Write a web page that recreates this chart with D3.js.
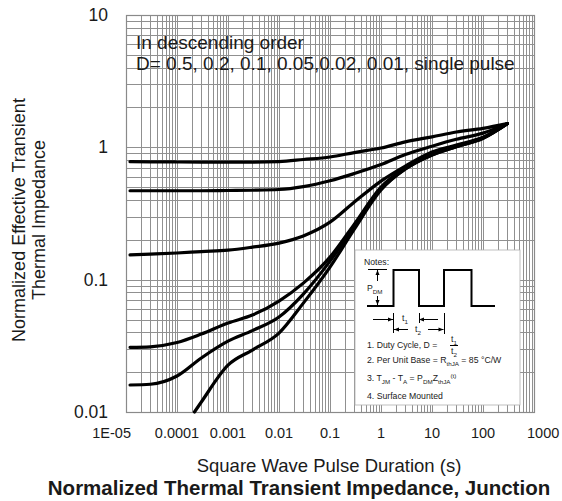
<!DOCTYPE html>
<html>
<head>
<meta charset="utf-8">
<script src="https://cdn.jsdelivr.net/npm/d3@7"></script>
<style>
  body { margin: 0; background: #fff; }
  text { font-family: "Liberation Sans", Arial, sans-serif; fill: #1a1a1a; }
</style>
</head>
<body>
<div id="chart"></div>
<script>
// Data

var xTicks = [1e-5, 1e-4, 1e-3, 1e-2, 0.1, 1, 10, 100, 1000];
var xTickLabels = ["1E-05", "0.0001", "0.001", "0.01", "0.1", "1", "10", "100", "1000"];
var yTicks = [0.01, 0.1, 1, 10];
var yTickLabels = ["0.01", "0.1", "1", "10"];

// pulse durations (s) shared by the duty cycle curves
var tDuty = [1.2e-5, 3e-5, 1e-4, 3e-4, 1e-3, 3e-3, 0.01, 0.03, 0.1, 0.3, 1, 3, 10, 30, 100, 300];
var zD05  = [0.78, 0.777, 0.775, 0.774, 0.774, 0.774, 0.781, 0.809, 0.845, 0.913, 0.988, 1.10, 1.20, 1.305, 1.39, 1.51];
var zD02  = [0.47, 0.47, 0.47, 0.47, 0.472, 0.474, 0.48, 0.505, 0.559, 0.634, 0.741, 0.882, 1.02, 1.15, 1.28, 1.51];
var zD01  = [0.154, 0.156, 0.159, 0.163, 0.167, 0.176, 0.189, 0.214, 0.272, 0.386, 0.556, 0.722, 0.922, 1.04, 1.19, 1.51];
var zD002 = [0.0308, 0.0311, 0.0335, 0.0388, 0.047, 0.054, 0.0689, 0.0942, 0.148, 0.263, 0.501, 0.697, 0.89, 1.02, 1.18, 1.51];
var zD001 = [0.016, 0.0162, 0.0187, 0.0256, 0.0343, 0.0412, 0.0522, 0.0778, 0.138, 0.254, 0.484, 0.686, 0.875, 1.01, 1.17, 1.51];

var tSingle = [2.2e-4, 3e-4, 1e-3, 3e-3, 0.01, 0.03, 0.1, 0.3, 1, 3, 10, 30, 100, 300];
var zSingle = [0.01, 0.0119, 0.0226, 0.0294, 0.0395, 0.0665, 0.1245, 0.241, 0.476, 0.686, 0.875, 1.01, 1.17, 1.51];

var series = [
    {t: tDuty, z: zD05},
    {t: tDuty, z: zD02},
    {t: tDuty, z: zD01},
    {t: tDuty, z: zD002},
    {t: tDuty, z: zD001},
    {t: tSingle, z: zSingle}
];

// Layout

var width = 562,
    height = 501;
var margin = {top: 15, right: 28, bottom: 89, left: 126},
    plotW = width - margin.left - margin.right,
    plotH = height - margin.top - margin.bottom;

var x = d3.scaleLog()
    .domain([1e-5, 1000])
    .range([0, plotW]);
var y = d3.scaleLog()
    .domain([0.01, 10])
    .range([plotH, 0]);

var svg = d3.select("#chart").append("svg")
    .attr("width", width)
    .attr("height", height);

var g = svg.append("g")
    .attr("transform", "translate(" + margin.left + "," + margin.top + ")");

var snap = function(v) { return Math.round(v) + 0.5; };

// 1..9 in every decade of a log domain
var logGrid = function(lo, hi) {
    var out = [];
    for (var e = Math.log10(lo); e < Math.log10(hi); e++) {
        for (var k = 1; k < 10; k++) out.push(k * Math.pow(10, e));
    }
    out.push(hi);
    return out;
};

// Grid

g.selectAll(".vgrid")
    .data(logGrid(1e-5, 1000))
    .enter().append("line")
    .attr("class", "vgrid")
    .attr("x1", function(d) { return snap(x(d)); })
    .attr("x2", function(d) { return snap(x(d)); })
    .attr("y1", 0)
    .attr("y2", plotH)
    .attr("stroke", "#909090")
    .attr("stroke-width", 1);

g.selectAll(".hgrid")
    .data(logGrid(0.01, 10))
    .enter().append("line")
    .attr("class", "hgrid")
    .attr("x1", 0)
    .attr("x2", plotW)
    .attr("y1", function(d) { return snap(y(d)); })
    .attr("y2", function(d) { return snap(y(d)); })
    .attr("stroke", "#909090")
    .attr("stroke-width", 1);

g.append("rect")
    .attr("x", 0.5)
    .attr("y", 0.5)
    .attr("width", plotW)
    .attr("height", plotH)
    .attr("fill", "none")
    .attr("stroke", "#8a8a8a")
    .attr("stroke-width", 1.2);

// Tick labels

g.selectAll(".xlab")
    .data(xTicks)
    .enter().append("text")
    .attr("class", "xlab")
    .attr("x", function(d) { return x(d); })
    .attr("y", plotH + 21)
    .attr("dy", "0.35em")
    .attr("font-size", 14.5)
    .attr("text-anchor", function(d, i) {
        if (i === 0) return "end";
        if (i === xTicks.length - 1) return "start";
        return "middle";
    })
    .attr("dx", function(d, i) {
        if (i === 0) return 5;
        if (i === xTicks.length - 1) return -7;
        return 0;
    })
    .text(function(d, i) { return xTickLabels[i]; });

g.selectAll(".ylab")
    .data(yTicks)
    .enter().append("text")
    .attr("class", "ylab")
    .attr("x", -18)
    .attr("y", function(d) { return y(d); })
    .attr("dy", "0.35em")
    .attr("font-size", 17.5)
    .attr("text-anchor", "end")
    .text(function(d, i) { return yTickLabels[i]; });

// Curves

var line = d3.line()
    .x(function(d) { return x(d[0]); })
    .y(function(d) { return y(d[1]); })
    .curve(d3.curveMonotoneX);

g.selectAll(".curve")
    .data(series)
    .enter().append("path")
    .attr("class", "curve")
    .attr("d", function(s) { return line(s.t.map(function(t, i) { return [t, s.z[i]]; })); })
    .attr("fill", "none")
    .attr("stroke", "#000")
    .attr("stroke-width", 3.2)
    .attr("stroke-linecap", "round")
    .attr("stroke-linejoin", "round");

// Legend text in the plot

g.append("text")
    .attr("x", 10)
    .attr("y", 34)
    .attr("font-size", 19)
    .text("In descending order");
g.append("text")
    .attr("x", 10)
    .attr("y", 55)
    .attr("font-size", 19)
    .text("D= 0.5, 0.2, 0.1, 0.05,0.02, 0.01, single pulse");

// Notes box

var notes = svg.append("g")
    .attr("transform", "translate(355,250)");

notes.append("rect")
    .attr("width", 165)
    .attr("height", 155)
    .attr("fill", "#fff")
    .attr("stroke", "#b0b0b0")
    .attr("stroke-width", 0.8);

var rich = function(parent, px, py, parts, size) {
    var t = parent.append("text")
        .attr("x", px)
        .attr("y", py)
        .attr("font-size", size);
    var shift = 0;
    parts.forEach(function(p) {
        var want = p[1] === "sub" ? 2.5 : (p[1] === "sup" ? -3 : 0);
        t.append("tspan")
            .attr("dy", want - shift)
            .attr("font-size", p[1] ? size * 0.72 : size)
            .text(p[0]);
        shift = want;
    });
    return t;
};

rich(notes, 9, 15, [["Notes:"]], 8.7);

notes.append("path")
    .attr("d", "M12,56H38.5V20H64V56H89V20H116.5V56H140")
    .attr("fill", "none")
    .attr("stroke", "#000")
    .attr("stroke-width", 2);

var thin = function(d) {
    notes.append("path")
        .attr("d", d)
        .attr("fill", "none")
        .attr("stroke", "#000")
        .attr("stroke-width", 1);
};
var head = function(d) {
    notes.append("path").attr("d", d).attr("fill", "#000");
};

// P_DM arrow
thin("M13,19.5H32");
thin("M22.5,20V31");
head("M22.5,20L20.5,25H24.5Z");
thin("M22.5,46V55");
head("M22.5,55L20.5,50H24.5Z");
rich(notes, 12, 41, [["P"], ["DM", "sub"]], 8.7);

// t1 arrows
thin("M18,69.5H38");
head("M38,69.5L33,67.5V71.5Z");
thin("M38.5,63V83");
thin("M64.5,63V73");
thin("M64,69.5H83");
head("M64,69.5L69,67.5V71.5Z");
rich(notes, 47, 71, [["t"], ["1", "sub"]], 8.7);

// t2 arrows
thin("M39,79.5H53");
head("M39,79.5L44,77.5V81.5Z");
thin("M73,79.5H88.5");
head("M88.5,79.5L83.5,77.5V81.5Z");
thin("M89.5,63V84");
rich(notes, 60, 82, [["t"], ["2", "sub"]], 8.7);

// numbered notes
rich(notes, 12, 98, [["1. Duty Cycle, D = "]], 8.7);
rich(notes, 96, 92, [["t"], ["1", "sub"]], 8.7);
thin("M95,95.5H103");
rich(notes, 96, 104, [["t"], ["2", "sub"]], 8.7);
rich(notes, 12, 113, [["2. Per Unit Base = R"], ["thJA", "sub"], [" = 85 \u00B0C/W"]], 8.7);
rich(notes, 12, 131, [["3. T"], ["JM", "sub"], [" - T"], ["A", "sub"], [" = P"], ["DM", "sub"], ["Z"], ["thJA", "sub"], ["(t)", "sup"]], 8.7);
rich(notes, 12, 149, [["4. Surface Mounted"]], 8.7);

// Axis titles

svg.append("text")
    .attr("transform", "translate(19,220) rotate(-90)")
    .attr("text-anchor", "middle")
    .attr("dy", "0.35em")
    .attr("font-size", 18)
    .text("Normalized Effective Transient");
svg.append("text")
    .attr("transform", "translate(39,220) rotate(-90)")
    .attr("text-anchor", "middle")
    .attr("dy", "0.35em")
    .attr("font-size", 18)
    .text("Thermal Impedance");

svg.append("text")
    .attr("x", 329)
    .attr("y", 466)
    .attr("dy", "0.35em")
    .attr("text-anchor", "middle")
    .attr("font-size", 18.5)
    .text("Square Wave Pulse Duration (s)");

svg.append("text")
    .attr("x", 299)
    .attr("y", 488)
    .attr("dy", "0.35em")
    .attr("text-anchor", "middle")
    .attr("font-size", 20.5)
    .attr("font-weight", "bold")
    .attr("fill", "#000")
    .text("Normalized Thermal Transient Impedance, Junction");
</script>
</body>
</html>
